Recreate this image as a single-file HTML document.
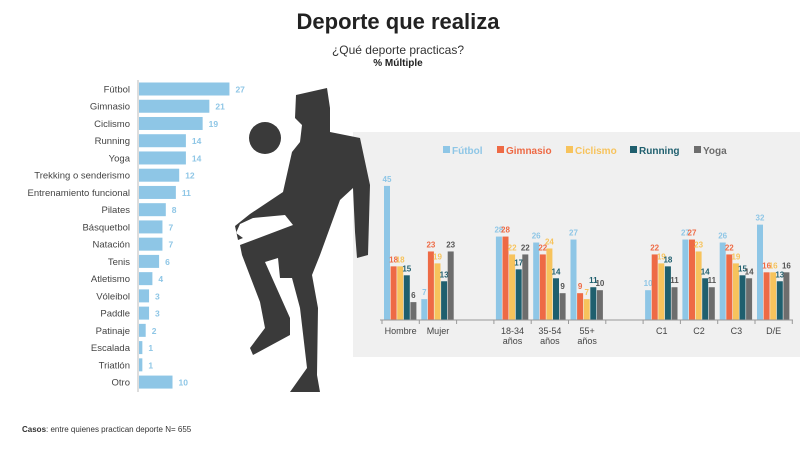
<!DOCTYPE html>
<html><head><meta charset="utf-8"><style>
body{margin:0;width:800px;height:447px;background:#fff;overflow:hidden;font-family:"Liberation Sans",sans-serif}
</style></head><body>
<svg width="800" height="447" xmlns="http://www.w3.org/2000/svg" font-family="Liberation Sans, sans-serif">
<rect x="353" y="132" width="447" height="225" fill="#f0f0f0"/>
<text x="398" y="29" text-anchor="middle" font-size="22" font-weight="bold" fill="#222">Deporte que realiza</text>
<text x="398" y="54" text-anchor="middle" font-size="12" fill="#333">¿Qué deporte practicas?</text>
<text x="398" y="66" text-anchor="middle" font-size="10" font-weight="bold" fill="#222">% Múltiple</text>
<text x="22" y="432" font-size="8" fill="#333"><tspan font-weight="bold">Casos</tspan>: entre quienes practican deporte N= 655</text>
<line x1="138" y1="80" x2="138" y2="392" stroke="#bbb" stroke-width="1"/>
<g id="left"></g>
<g fill="#3a3a3a">
<circle cx="265" cy="138" r="16"/>
<path d="M296,95 L327,88 L330,108 L330,132 L360,138 L370,185 L368,255 L357,258 L355,232 L353,188 L340,200 L320,255 L312,275 L318,308 L317,375 L320,392 L290,392 L307,368 L300,308 L292,278 L280,278 L278,258 L265,262 L290,318 L290,335 L253,355 L250,348 L265,328 L260,302 L242,255 L240,245 L293,225 L285,215 L253,218 L240,224 L236,233 L243,238 L238,240 L235,226 L250,214 L283,192 L292,152 L300,142 L302,125 L295,118 Z"/>
</g>
<g id="right"></g>
<line x1="380" y1="320" x2="793" y2="320" stroke="#999" stroke-width="1"/>
<g font-size="10" font-weight="bold">
<rect x="443" y="146" width="7" height="7" fill="#8ec6e6"/><text x="452" y="154" fill="#8ec6e6">Fútbol</text>
<rect x="497" y="146" width="7" height="7" fill="#ee6a45"/><text x="506" y="154" fill="#ee6a45">Gimnasio</text>
<rect x="566" y="146" width="7" height="7" fill="#f7c35c"/><text x="575" y="154" fill="#f7c35c">Ciclismo</text>
<rect x="630" y="146" width="7" height="7" fill="#1f5f6e"/><text x="639" y="154" fill="#1f5f6e">Running</text>
<rect x="694" y="146" width="7" height="7" fill="#6d6d6d"/><text x="703" y="154" fill="#6d6d6d">Yoga</text>
</g>
</svg>
<script>
const NS="http://www.w3.org/2000/svg";
function el(p,t,a,txt){const e=document.createElementNS(NS,t);for(const k in a)e.setAttribute(k,a[k]);if(txt!==undefined)e.textContent=txt;p.appendChild(e);return e;}
const L=document.getElementById("left");
const items=[["Fútbol",27],["Gimnasio",21],["Ciclismo",19],["Running",14],["Yoga",14],["Trekking o senderismo",12],["Entrenamiento funcional",11],["Pilates",8],["Básquetbol",7],["Natación",7],["Tenis",6],["Atletismo",4],["Vóleibol",3],["Paddle",3],["Patinaje",2],["Escalada",1],["Triatlón",1],["Otro",10]];
items.forEach((d,i)=>{const cy=89+i*17.24;const w=d[1]*3.35;
el(L,"rect",{x:139,y:cy-6.5,width:w,height:13,fill:"#8ec6e6"});
el(L,"text",{x:130,y:cy+3.5,"text-anchor":"end","font-size":"9.5",fill:"#444"},d[0]);
el(L,"text",{x:139+w+6,y:cy+3.5,"font-size":"8.5",fill:"#8ec6e6","font-weight":"bold"},d[1]);});
const R=document.getElementById("right");
const cols=["#8ec6e6","#ee6a45","#f7c35c","#1f5f6e","#6d6d6d"];
const lcols=["#8ec6e6","#ee6a45","#f7c35c","#1f5f6e","#555"];
const groups=[["Hombre",[45,18,18,15,6]],["Mujer",[7,23,19,13,23]],null,["18-34|años",[28,28,22,17,22]],["35-54|años",[26,22,24,14,9]],["55+|años",[27,9,7,11,10]],null,["C1",[10,22,19,18,11]],["C2",[27,27,23,14,11]],["C3",[26,22,19,15,14]],["D/E",[32,16,16,13,16]]];
const x0=382,cw=37.3;
for(let t=0;t<=11;t++)el(R,"line",{x1:x0+t*cw,y1:320,x2:x0+t*cw,y2:324,stroke:"#999"});
groups.forEach((g,i)=>{if(!g)return;const gx=x0+i*cw+2;
g[1].forEach((v,j)=>{const h=v*2.98;const bx=gx+j*6.6;
el(R,"rect",{x:bx,y:320-h,width:6,height:h,fill:cols[j]});
el(R,"text",{x:bx+3,y:320-h-4,"text-anchor":"middle","font-size":"8","font-weight":"bold",fill:lcols[j]},v);});
const lines=g[0].split("|");const cx=x0+i*cw+cw/2;
lines.forEach((s,k)=>el(R,"text",{x:cx,y:334+k*10,"text-anchor":"middle","font-size":"9",fill:"#444"},s));});
</script>
</body></html>
